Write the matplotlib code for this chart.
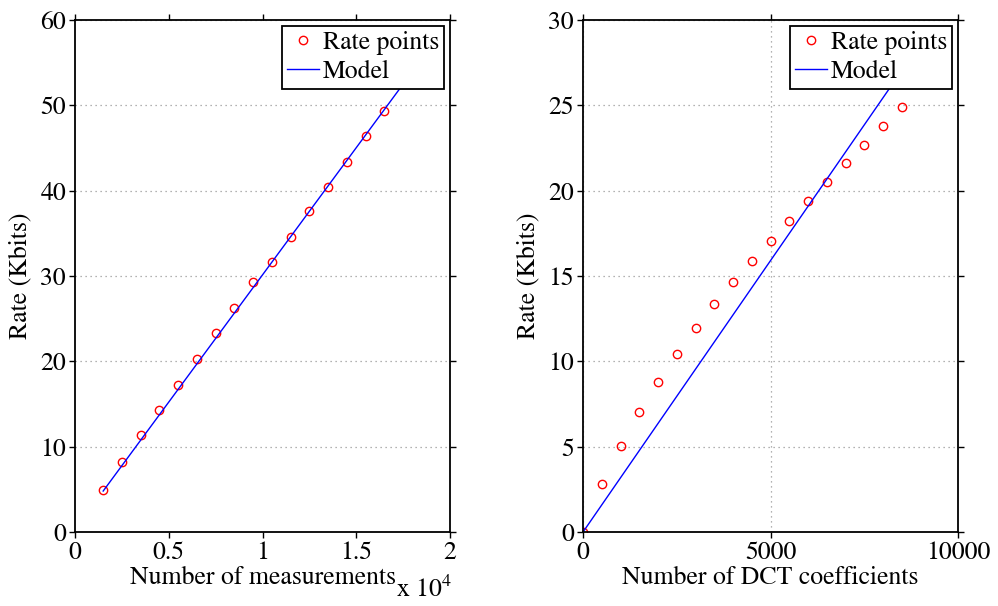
import matplotlib
matplotlib.use('Agg')
import matplotlib.pyplot as plt

plt.rcParams['font.family'] = ['STIXGeneral', 'DejaVu Serif']
plt.rcParams['mathtext.fontset'] = 'stix'

# left panel: rate vs number of measurements
meas_x = [1500, 2500, 3500, 4500, 5500, 6500, 7500, 8500, 9500,
          10500, 11500, 12500, 13500, 14500, 15500, 16500]
meas_rate = [4.95, 8.17, 11.4, 14.26, 17.19, 20.23, 23.32, 26.29, 29.3,
             31.64, 34.6, 37.62, 40.47, 43.33, 46.4, 49.35]
meas_model_x = [1500, 17350]
meas_model_y = [4.8, 52.05]

# right panel: rate vs number of DCT coefficients
dct_x = [0, 500, 1000, 1500, 2000, 2500, 3000, 3500, 4000, 4500,
         5000, 5500, 6000, 6500, 7000, 7500, 8000, 8500]
dct_rate = [0.0, 2.81, 5.04, 7.03, 8.79, 10.43, 11.93, 13.36, 14.65, 15.86,
            17.03, 18.24, 19.39, 20.5, 21.6, 22.69, 23.77, 24.88]
dct_model_x = [0, 8190]
dct_model_y = [0.0, 26.05]

meas_ticks = [0, 5000, 10000, 15000, 20000]
meas_tick_labels = ['0', '0.5', '1', '1.5', '2']
dct_ticks = [0, 5000, 10000]

FS = 18.5

fig = plt.figure(figsize=(9.98, 6.06), dpi=100)
ax1 = fig.add_axes([0.0752, 0.1221, 0.3758, 0.845])
ax2 = fig.add_axes([0.5842, 0.1221, 0.3758, 0.845])


def style(ax):
    for s in ax.spines.values():
        s.set_linewidth(1.3)
        s.set_color('black')
    ax.tick_params(direction='out', length=4.5, width=1.0, top=True, right=True,
                   labelsize=FS, pad=2)
    ax.set_ylabel('Rate (Kbits)', fontsize=FS, labelpad=6)
    leg = ax.legend(loc='upper right', fontsize=FS, fancybox=False, framealpha=1,
                    facecolor='white', edgecolor='black', borderpad=0.2,
                    labelspacing=0.2, handlelength=1.25, handletextpad=0.15,
                    borderaxespad=0.22)
    leg.get_frame().set_linewidth(1.3)
    leg.set_zorder(10)


ax1.plot(meas_x, meas_rate, 'o', mfc='none', mec='red', ms=6, mew=1.0,
         label='Rate points')
ax1.plot(meas_model_x, meas_model_y, '-', color='blue', lw=1.0, label='Model')
ax1.set_xlim(0, 20000)
ax1.set_ylim(0, 60)
ax1.set_xticks(meas_ticks)
ax1.set_xticklabels(meas_tick_labels)
ax1.set_yticks(range(0, 61, 10))
ax1.yaxis.grid(True, linestyle=(0, (1, 3)), color='#999999', lw=0.9)
ax1.set_axisbelow(True)
ax1.set_xlabel('Number of measurements', fontsize=FS, labelpad=1)
ax1.text(0.93, -0.088, r'x 10$^4$', transform=ax1.transAxes, fontsize=FS,
         ha='center', va='top')
style(ax1)

ax2.plot(dct_x, dct_rate, 'o', mfc='none', mec='red', ms=6, mew=1.0,
         label='Rate points')
ax2.plot(dct_model_x, dct_model_y, '-', color='blue', lw=1.0, label='Model')
ax2.set_xlim(0, 10000)
ax2.set_ylim(0, 30)
ax2.set_xticks(dct_ticks)
ax2.set_yticks(range(0, 31, 5))
ax2.grid(True, linestyle=(0, (1, 3)), color='#999999', lw=0.9)
ax2.set_axisbelow(True)
ax2.set_xlabel('Number of DCT coefficients', fontsize=FS, labelpad=1)
style(ax2)

fig.savefig('out.png', dpi=100)
